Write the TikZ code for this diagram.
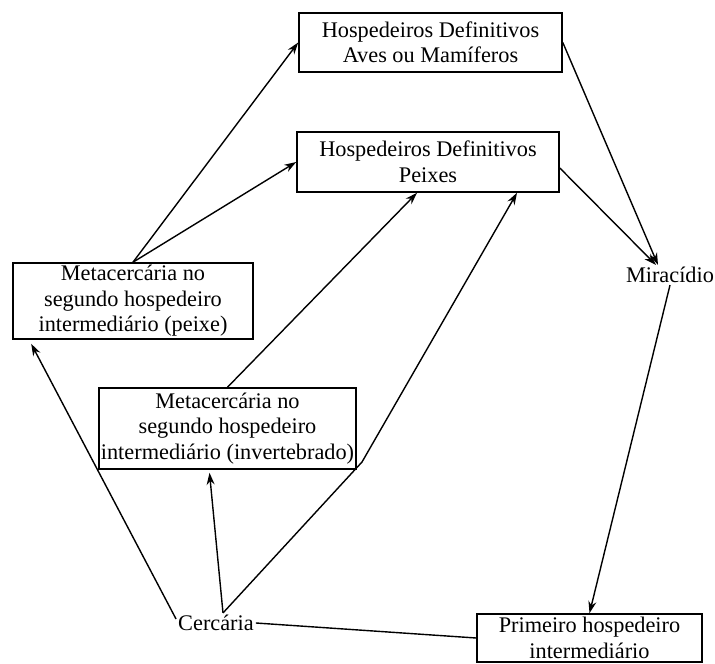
\documentclass[tikz,border=0pt]{standalone}
\usepackage{fontspec}
\setmainfont{Liberation Serif}
\usepackage{tikz}
\usetikzlibrary{arrows.meta,positioning,calc}

\begin{document}
\begin{tikzpicture}[
        x=1pt, y=-1pt,
        font=\fontsize{22.3}{25.5}\selectfont,
        box/.style={draw=black, line width=1.6pt, align=center, inner sep=2pt},
        label/.style={align=center, inner sep=2pt},
        arrow/.style={-{Stealth[length=12pt, width=8pt]}, line width=1.4pt, draw=black},
        link/.style={line width=1.4pt, draw=black}
    ]
    \useasboundingbox (0,0) rectangle (715,664);
    \node[box, minimum width=263pt, minimum height=59pt] (aves) at (430.5,42.5) {Hospedeiros Definitivos\\Aves ou Mamíferos};
    \node[box, minimum width=262pt, minimum height=60pt] (peixes) at (428,162) {Hospedeiros Definitivos\\Peixes};
    \node[box, minimum width=240pt, minimum height=76pt] (metap) at (133,301) {Metacercária no\\segundo hospedeiro\\intermediário (peixe)};
    \node[box, minimum width=257pt, minimum height=81pt] (metai) at (227.5,428.5) {Metacercária no\\segundo hospedeiro\\intermediário (invertebrado)};
    \node[label] (mira) at (670,275) {Miracídio};
    \node[label] (cerc) at (216,623) {Cercária};
    \node[box, minimum width=225pt, minimum height=48pt] (prim) at (589.5,638) {Primeiro hospedeiro\\intermediário};
    \coordinate (bend) at (362,462);
    \draw[arrow] (metap.north) -- (aves.west);
    \draw[arrow] (metap.north) -- (peixes.west);
    \draw[arrow] (metai.north) -- ([xshift=-11pt]peixes.south);
    \draw[arrow] ([xshift=7pt]cerc.north) -- (bend) -- ([xshift=89pt]peixes.south);
    \draw[arrow] ([xshift=7pt]cerc.north) -- ([xshift=-18pt, yshift=-3pt]metai.south);
    \draw[arrow] ([yshift=4pt]cerc.west) -- ([xshift=19pt, yshift=-4pt]metap.south west);
    \draw[link] (cerc.east) -- (prim.west);
    \draw[arrow] (aves.east) -- ([xshift=-12pt]mira.north);
    \draw[arrow] ([yshift=-6pt]peixes.east) -- ([xshift=-14pt]mira.north);
    \draw[arrow] (mira.south) -- (prim.north);
\end{tikzpicture}
\end{document}
